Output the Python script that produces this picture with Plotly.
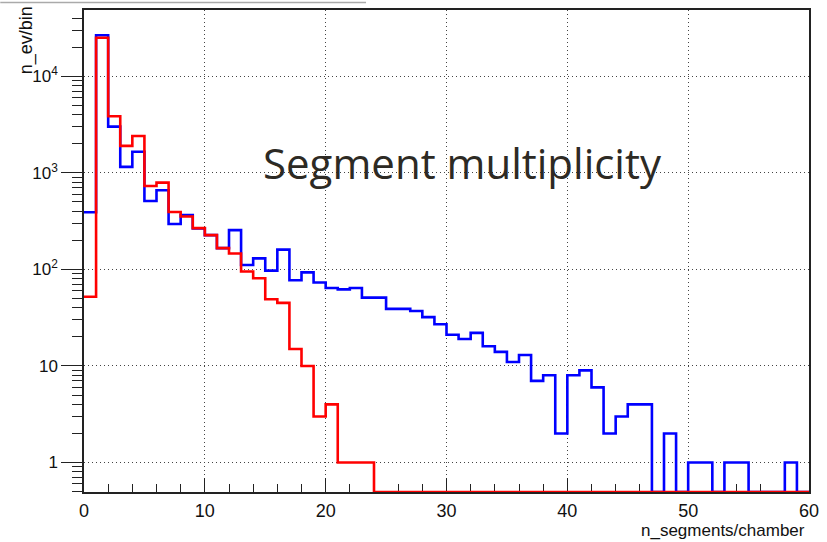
import numpy as np
import plotly.graph_objects as go

# bin edges: 60 unit-width bins from 0 to 60
bin_edges = list(range(0, 61))

# blue histogram (counts per bin)
blue_counts = [390, 26500, 3000, 1150, 1650, 510, 660, 295, 365, 265,
               226, 166, 255, 111, 130, 97, 160, 77, 93, 73,
               64, 62, 64, 51, 51, 39, 39, 37, 32, 27,
               21, 19, 22, 16, 14, 11, 13, 7, 8, 2,
               8, 9, 6, 2, 3, 4, 4, 0, 2, 0,
               1, 1, 0, 1, 1, 0, 0, 0, 1, 0]

# red histogram (counts per bin)
red_counts = [52, 25000, 3850, 1900, 2400, 730, 790, 393, 352, 267,
              226, 166, 146, 95, 81, 49, 45, 15, 10, 3,
              4, 1, 1, 1, 0, 0, 0, 0, 0, 0,
              0, 0, 0, 0, 0, 0, 0, 0, 0, 0,
              0, 0, 0, 0, 0, 0, 0, 0, 0, 0,
              0, 0, 0, 0, 0, 0, 0, 0, 0, 0]

y_tick_vals = [1, 10, 100, 1000, 10000]
y_tick_text = ["1", "10", "10<sup>2</sup>", "10<sup>3</sup>", "10<sup>4</sup>"]
x_tick_vals = [0, 10, 20, 30, 40, 50, 60]

Y_LOG_MIN, Y_LOG_MAX = -0.305, 4.685
floor_val = 10 ** Y_LOG_MIN


def step_xy(counts):
    vals = [c if c > 0 else floor_val for c in counts]
    xs = bin_edges[:-1] + [bin_edges[-1]]
    ys = vals + [vals[-1]]
    return xs, ys


fig = go.Figure()
bx, by = step_xy(blue_counts)
rx, ry = step_xy(red_counts)
fig.add_trace(go.Scatter(x=bx, y=by, mode="lines", line=dict(shape="hv", color="#0000ff", width=2.6),
                         hoverinfo="skip", showlegend=False))
fig.add_trace(go.Scatter(x=rx, y=ry, mode="lines", line=dict(shape="hv", color="#ff0000", width=2.6),
                         hoverinfo="skip", showlegend=False))

axis_font = dict(family="Liberation Sans, Arial, sans-serif", color="#111", size=17)
grid_dash = "1px,3px"

fig.update_layout(
    width=827, height=542,
    margin=dict(l=84, r=16, t=8, b=50),
    paper_bgcolor="white", plot_bgcolor="white",
    xaxis=dict(range=[0, 60], tickmode="array", tickvals=x_tick_vals,
               ticks="inside", ticklen=14, tickwidth=1.3, tickcolor="#222",
               minor=dict(dtick=2, ticks="inside", ticklen=8, tickwidth=1.3, tickcolor="#222", showgrid=False),
               showgrid=True, gridcolor="#444", griddash=grid_dash, gridwidth=1.2,
               showline=True, linecolor="#222", linewidth=1.5, mirror=True,
               zeroline=False, tickfont=dict(axis_font, size=18), layer="below traces",
               ticklabelstandoff=2),
    yaxis=dict(type="log", range=[Y_LOG_MIN, Y_LOG_MAX], tickmode="array",
               tickvals=y_tick_vals, ticktext=y_tick_text,
               ticks="outside", ticklen=21, tickwidth=1.3, tickcolor="#222",
               minor=dict(dtick="D1", ticks="outside", ticklen=10, tickwidth=1.3, tickcolor="#222", showgrid=False),
               showgrid=True, gridcolor="#444", griddash=grid_dash, gridwidth=1.2,
               showline=True, linecolor="#222", linewidth=1.5, mirror=True,
               zeroline=False, tickfont=axis_font, layer="below traces"),
)

fig.add_annotation(text="Segment multiplicity", xref="paper", yref="paper",
                   x=0.5225, y=0.684, xanchor="center", yanchor="middle", showarrow=False,
                   font=dict(family="Open Sans, sans-serif", size=42, color="#2d2a24"))
fig.add_annotation(text="n_ev/bin", xref="paper", yref="paper", textangle=-90,
                   x=-0.080, y=1.012, xanchor="center", yanchor="top", showarrow=False,
                   font=dict(family="Liberation Sans, Arial, sans-serif", size=18, color="#111"))
fig.add_annotation(text="n_segments/chamber", xref="paper", yref="paper",
                   x=0.997, y=-0.080, xanchor="right", yanchor="middle", showarrow=False,
                   font=dict(family="Liberation Sans, Arial, sans-serif", size=17, color="#111"))
fig.add_shape(type="line", xref="paper", yref="paper", x0=-0.1155, x1=0.389, y0=1.0155, y1=1.0155,
              line=dict(color="#aaaaaa", width=1.5))

fig.write_html("out.html")
